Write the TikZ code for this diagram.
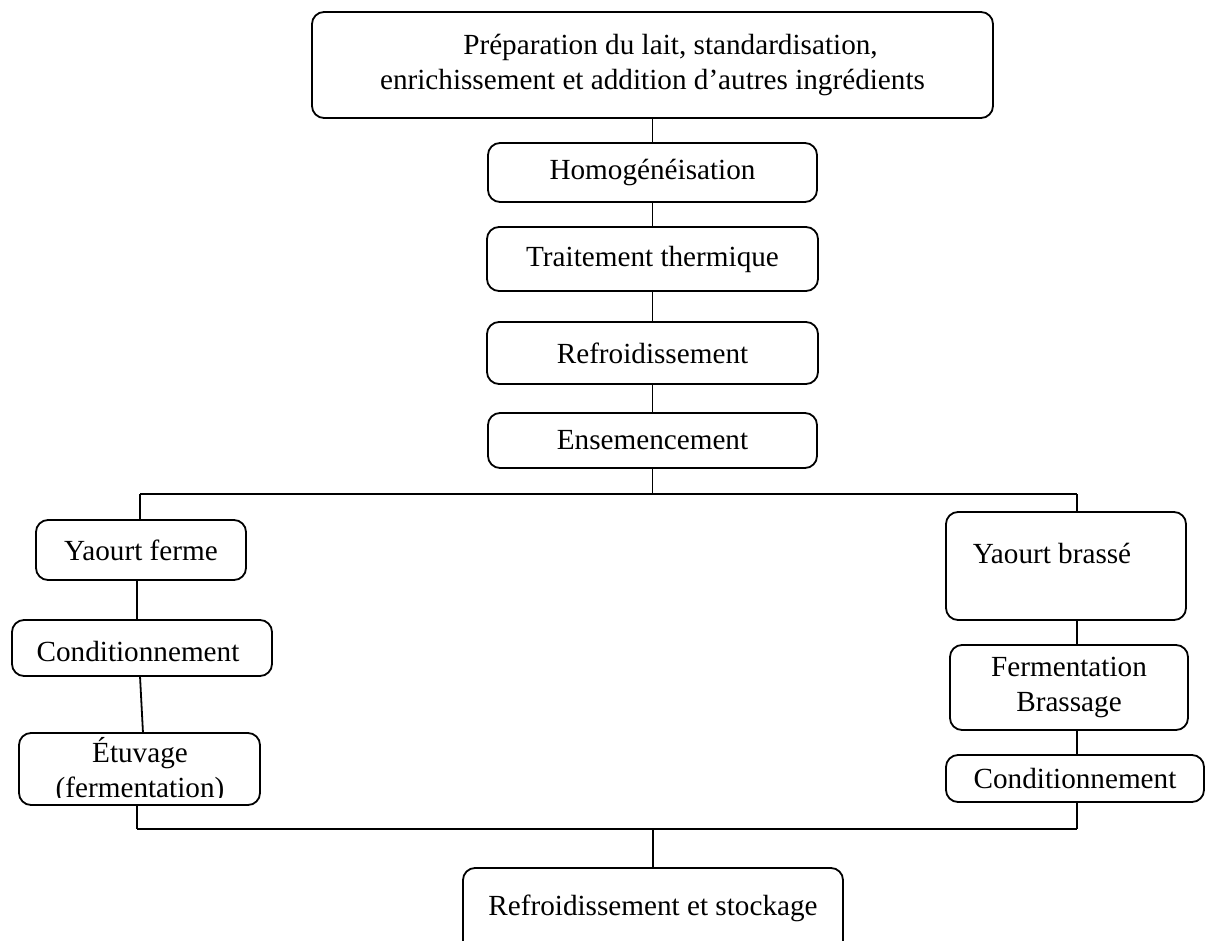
\documentclass[tikz,border=0pt]{standalone}
\usepackage{fontspec}
\setmainfont{Liberation Serif}
\begin{document}
\begin{tikzpicture}[x=1pt,y=-1pt,
  box/.style={draw,rounded corners=12pt,line width=1.8pt,inner sep=0pt,outer sep=0pt},
  txt/.style={font=\fontsize{29.2}{35}\selectfont,inner sep=0pt,align=center},
  link/.style={line width=1.8pt}]
\useasboundingbox (0,0) rectangle (1205,941);
% boxes
\node[box,minimum width=681pt,minimum height=106pt] (top) at (652.5,65) {};
\node[txt] (toptxt) at (652.5,65) {\hspace*{36pt}Préparation du lait, standardisation,\\enrichissement et addition d’autres ingrédients};
\node[box,txt,minimum width=329pt,minimum height=59pt] (homo) at (652.5,172.5) {Homogénéisation};
\node[box,txt,minimum width=331pt,minimum height=64pt] (trait) at (652.5,259) {Traitement thermique};
\node[box,txt,minimum width=331pt,minimum height=62pt] (refr) at (652.5,353) {Refroidissement};
\node[box,txt,minimum width=329pt,minimum height=55pt] (ens) at (652.5,440.5) {Ensemencement};
\node[box,txt,minimum width=210pt,minimum height=60pt] (yf) at (141,550) {Yaourt ferme};
\node[box,minimum width=260pt,minimum height=56pt] (condL) at (142,648) {};
\node[txt] (condLtxt) at (138,652) {Conditionnement};
\node[box,minimum width=241pt,minimum height=72pt] (etuv) at (139.5,769) {};
\begin{scope}
\clip (20,734) rectangle (259,797);
\node[txt] (etuvtxt) at (140,771) {Étuvage\\(fermentation)};
\end{scope}
\node[box,minimum width=240pt,minimum height=108pt] (yb) at (1066,566) {};
\node[txt] (ybtxt) at (1052,553) {Yaourt brassé};
\node[box,txt,minimum width=238pt,minimum height=85pt] (ferm) at (1069,687.5) {Fermentation\\Brassage};
\node[box,txt,minimum width=258pt,minimum height=47pt] (condR) at (1075,778.5) {Conditionnement};
\node[box,minimum width=380pt,minimum height=88pt] (stock) at (653,912) {};
\node[txt] (stocktxt) at (653,908) {Refroidissement et stockage};
% connectors
\coordinate (bl) at (140,494);
\coordinate (br) at (1077,494);
\coordinate (cl) at (137,829);
\coordinate (cr) at (1077,829);
\coordinate (cm) at (653,829);
\draw[link] (top.south) -- (homo.north);
\draw[link] (homo.south) -- (trait.north);
\draw[link] (trait.south) -- (refr.north);
\draw[link] (refr.south) -- (ens.north);
\draw[link] (ens.south) -- (ens.south |- bl);
\draw[link] (bl) -- (br);
\draw[link] (bl) -- (bl |- yf.north);
\draw[link] (br) -- (br |- yb.north);
\draw[link] (yf.south -| 137,0) -- (condL.north -| 137,0);
\draw[link] (condL.south -| bl) -- (etuv.north -| 143,0);
\draw[link] (etuv.south -| cl) -- (cl);
\draw[link] (yb.south -| br) -- (ferm.north -| br);
\draw[link] (ferm.south -| br) -- (condR.north -| br);
\draw[link] (condR.south -| cr) -- (cr);
\draw[link] (cl) -- (cr);
\draw[link] (cm) -- (stock.north);
\end{tikzpicture}
\end{document}
